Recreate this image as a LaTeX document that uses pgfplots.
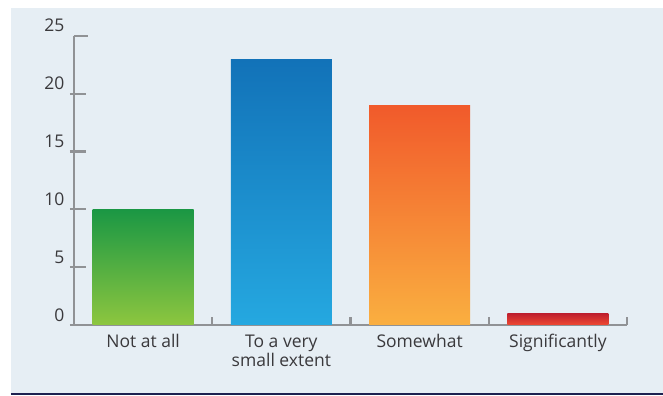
\documentclass[border=0pt]{standalone}
\usepackage{fontspec}
\setmainfont{Open Sans}
\usepackage{pgfplots}
\pgfplotsset{compat=1.18}

\definecolor{panel}{HTML}{E6EEF4}
\definecolor{axisgray}{HTML}{909295}
\definecolor{labelgray}{HTML}{3A393C}
\definecolor{navy}{HTML}{1D2150}
\definecolor{greenTop}{HTML}{1A9744}
\definecolor{greenBot}{HTML}{8DC63F}
\definecolor{blueTop}{HTML}{1272B8}
\definecolor{blueBot}{HTML}{25A8E0}
\definecolor{orangeTop}{HTML}{F15A2B}
\definecolor{orangeBot}{HTML}{FAAF40}
\definecolor{redTop}{HTML}{BE1E2D}
\definecolor{redBot}{HTML}{EF4A32}

\begin{document}
\begin{tikzpicture}
% page and light panel behind the chart
\useasboundingbox (-74bp,-71bp) rectangle (589bp,325bp);
\fill[white] (-74bp,-71bp) rectangle (589bp,325bp);
\fill[panel] (-63bp,-69bp) rectangle (589bp,317bp);
\draw[navy, line width=1.3bp] (-63bp,-69bp) -- (589bp,-69bp);

\begin{axis}[
  scale only axis,
  width=553bp, height=289bp,
  xmin=-0.5, xmax=3.5,
  ymin=0, ymax=25,
  axis lines*=left,
  axis line style={axisgray, line width=2.2bp},
  ytick={0,5,10,15,20},
  extra y ticks={25},
  extra y tick style={major tick length=14bp, y tick style={xshift=4bp}},
  xtick={0,1,2,3},
  xticklabels={Not at all, To a very\\small extent, Somewhat, Significantly},
  x tick style={draw=none},
  tick align=inside,
  major tick length=16bp,
  y tick style={axisgray, line width=2.2bp, xshift=-4bp},
  /pgf/number format/assume math mode=true,
  tick label style={font=\fontsize{17.5bp}{19bp}\selectfont, text=labelgray},
  yticklabel style={anchor=base east, yshift=4bp, xshift=-6bp},
  xticklabel style={align=center, yshift=-6bp},
  clip=false,
]
\addplot[ybar, bar shift=0pt, bar width=0.73, draw=none, top color=greenTop, bottom color=greenBot] coordinates {(0,10)};
\addplot[ybar, bar shift=0pt, bar width=0.73, draw=none, top color=blueTop, bottom color=blueBot] coordinates {(1,23)};
\addplot[ybar, bar shift=0pt, bar width=0.73, draw=none, top color=orangeTop, bottom color=orangeBot] coordinates {(2,19)};
\addplot[ybar, bar shift=0pt, bar width=0.73, draw=none, top color=redTop, bottom color=redBot] coordinates {(3,1)};
% short separators between the categories on the x axis
\draw[axisgray, line width=2.2bp] (axis cs:0.5,0) -- ([yshift=8bp]axis cs:0.5,0);
\draw[axisgray, line width=2.2bp] (axis cs:1.5,0) -- ([yshift=8bp]axis cs:1.5,0);
\draw[axisgray, line width=2.2bp] (axis cs:2.5,0) -- ([yshift=8bp]axis cs:2.5,0);
\draw[axisgray, line width=2.2bp] (axis cs:3.5,0) -- ([yshift=8bp]axis cs:3.5,0);
\end{axis}
\end{tikzpicture}
\end{document}
